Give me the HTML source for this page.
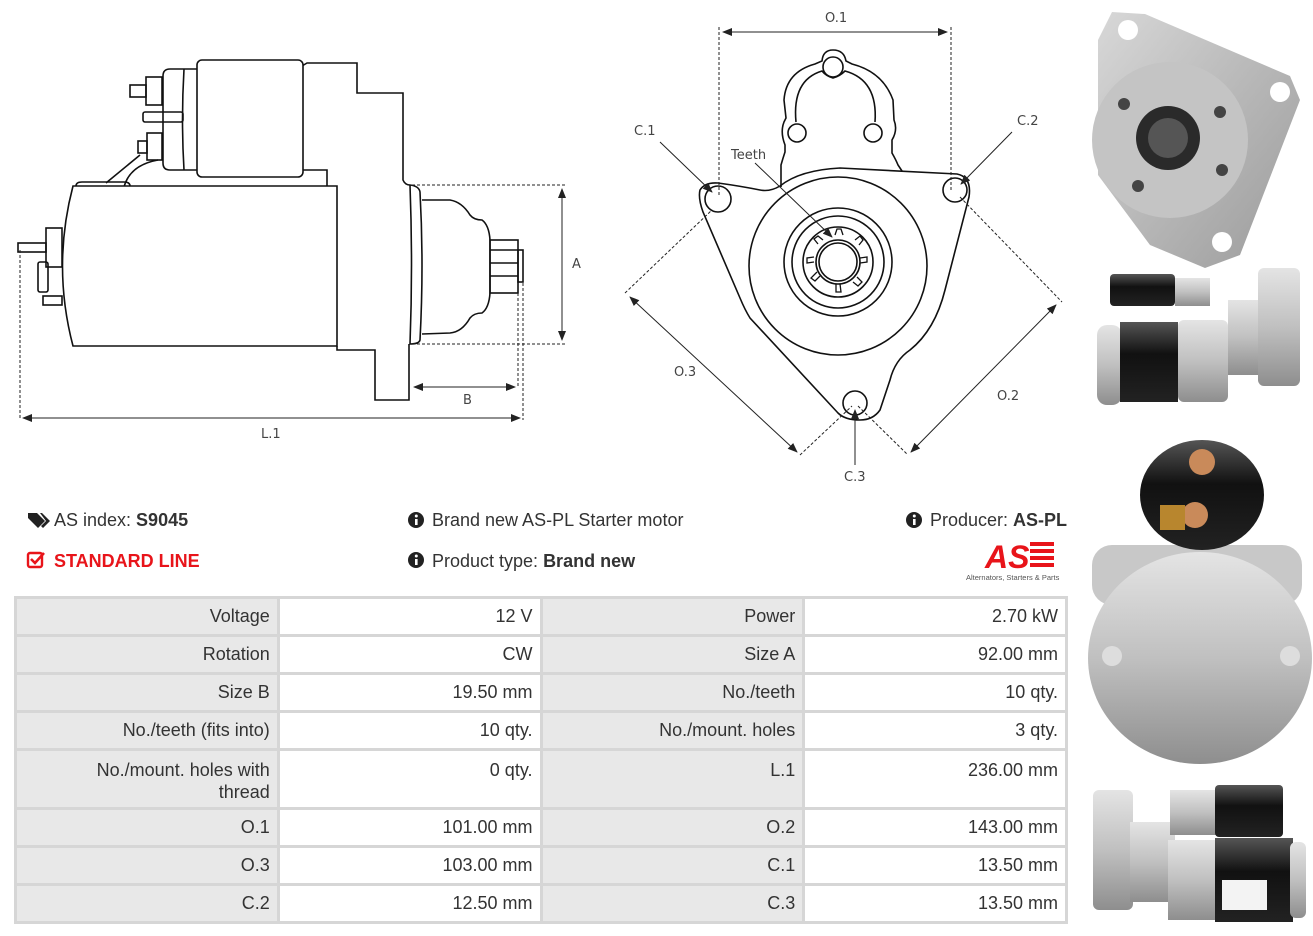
<!DOCTYPE html>
<html><head><meta charset="utf-8">
<style>
html,body{margin:0;padding:0;background:#fff;}
body{width:1313px;height:936px;position:relative;overflow:hidden;font-family:"Liberation Sans",sans-serif;color:#333;}
.t{position:absolute;font-size:18px;white-space:nowrap;}
table{position:absolute;left:14px;top:596px;border-collapse:collapse;width:1054px;table-layout:fixed;}
td{border:3px solid #d6d6d6;font-size:18px;color:#333;text-align:right;padding:0 7px;height:32px;vertical-align:middle;}
tr{height:38px;}
td.l{background:#e8e8e8;}
td.v{background:#fff;}
tr.tall{height:59px;}
tr.tall td{vertical-align:top;padding-top:8px;line-height:22px;}
</style></head><body>

<svg width="1313" height="936" style="position:absolute;left:0;top:0" xmlns="http://www.w3.org/2000/svg">
<defs>
<marker id="ar" markerWidth="10" markerHeight="8" refX="9" refY="4" orient="auto-start-reverse" markerUnits="userSpaceOnUse"><path d="M0,0 L10,4 L0,8 z" fill="#222"/></marker>
<linearGradient id="sil" x1="0" y1="0" x2="1" y2="1"><stop offset="0" stop-color="#d8d8d8"/><stop offset="0.5" stop-color="#b8b8b8"/><stop offset="1" stop-color="#9a9a9a"/></linearGradient>
<linearGradient id="silv" x1="0" y1="0" x2="0" y2="1"><stop offset="0" stop-color="#e4e4e4"/><stop offset="0.5" stop-color="#c0c0c0"/><stop offset="1" stop-color="#8e8e8e"/></linearGradient>
<linearGradient id="blk" x1="0" y1="0" x2="0" y2="1"><stop offset="0" stop-color="#555"/><stop offset="0.4" stop-color="#111"/><stop offset="1" stop-color="#222"/></linearGradient>
</defs>

<!-- SIDE VIEW -->
<g fill="none" stroke="#111" stroke-width="1.6">
 <!-- housing -->
 <path d="M302,66 L307,63 L357,63 L357,93 L403,93 L403,180 Q405,185 410,185"/>
 <path d="M300,170 L327,170 L327,186"/>
 <path d="M337,346 L337,350 L375,350 L375,400 L409,400 L409,344"/>
 <!-- solenoid -->
 <rect x="197" y="60" width="106" height="117" rx="5" fill="#fff"/>
 <path d="M197,69 L170,69 Q163,69 163,76 L163,163 Q163,170 170,170 L197,170"/>
 <path d="M184,69 Q181,120 184,170"/>
 <rect x="146" y="77" width="16" height="28"/>
 <rect x="130" y="85" width="16" height="12"/>
 <rect x="143" y="112" width="40" height="10" rx="2"/>
 <rect x="147" y="133" width="15" height="27"/>
 <rect x="138" y="141" width="9" height="12"/>
 <path d="M140,155 L106,183 M158,160 Q130,165 124,187"/>
 <!-- motor body -->
 <path d="M73,186 L337,186 L337,346 L73,346 Q52,266 73,186 Z" fill="#fff"/>
 <path d="M76,186 Q76,182 82,182 L124,182 Q130,182 130,186"/>
 <rect x="46" y="228" width="16" height="39"/>
 <rect x="38" y="262" width="10" height="30" rx="2"/>
 <rect x="18" y="243" width="28" height="9"/>
 <rect x="43" y="296" width="19" height="9"/>
 <!-- flange -->
 <path d="M410,185 Q419,186 420,192 Q424,265 420,340 Q419,344 410,344 Q413,265 410,185"/>
 <!-- nose -->
 <path d="M422,200 L450,200 Q462,202 470,215 Q474,220 482,220 Q489,225 490,240 L490,293 Q489,308 482,313 Q474,313 470,318 Q462,332 450,333 L422,334"/>
 <rect x="490" y="240" width="28" height="53"/>
 <line x1="490" y1="250" x2="518" y2="250"/><line x1="490" y1="263" x2="518" y2="263"/><line x1="490" y1="276" x2="518" y2="276"/>
 <rect x="518" y="250" width="5" height="32"/>
</g>
<!-- side dims -->
<g stroke="#222" stroke-width="1" fill="none">
 <path d="M412,185 L565,185 M412,344 L565,344 M20,250 L20,420 M523,283 L523,420 M518,293 L518,387" stroke-dasharray="3,2"/>
 <line x1="562" y1="189" x2="562" y2="340" marker-start="url(#ar)" marker-end="url(#ar)"/>
 <line x1="414" y1="387" x2="515" y2="387" marker-start="url(#ar)" marker-end="url(#ar)"/>
 <line x1="23" y1="418" x2="520" y2="418" marker-start="url(#ar)" marker-end="url(#ar)"/>
</g>
<g font-family="DejaVu Sans,sans-serif" font-size="13" fill="#444">
 <text x="572" y="268">A</text>
 <text x="463" y="404">B</text>
 <text x="261" y="438">L.1</text>
</g>

<!-- FRONT VIEW -->
<g fill="none" stroke="#111" stroke-width="1.6">
 <path d="M700,190 Q705,182 718,183 Q740,186 760,190 Q770,192 780,186 Q800,170 840,168 L957,174 Q972,177 969,197 L945,290 Q935,330 910,350 Q895,360 890,380 L880,410 Q873,420 860,420 Q845,420 838,413 L750,318 Q745,310 740,298 L703,212 Q698,198 700,190 Z"/>
 <path d="M781,187 L781,165 Q783,158 785,152 L785,145 Q780,132 784,122 L786,118 L784,100 Q786,72 815,64 L822,61 Q823,50 833,50 Q844,50 846,61 L852,64 Q883,72 893,100 L894,120 Q898,130 892,140 L892,153 Q896,160 898,165 L902,171"/>
 <path d="M796,122 Q792,80 822,71 Q826,76 833,78 Q840,76 845,71 Q878,80 875,122"/>
 <circle cx="833" cy="67" r="10"/>
 <circle cx="797" cy="133" r="9"/>
 <circle cx="873" cy="133" r="9"/>
 <circle cx="718" cy="199" r="13"/>
 <circle cx="955" cy="190" r="12"/>
 <circle cx="855" cy="403" r="12"/>
 <circle cx="838" cy="266" r="89"/>
 <circle cx="838" cy="262" r="54"/>
 <circle cx="838" cy="262" r="46"/>
 <circle cx="838" cy="262" r="35"/>
 <circle cx="838" cy="262" r="22"/>
 <circle cx="838" cy="262" r="19"/>
</g>
<g stroke="#111" stroke-width="1.3" fill="none">
 <path d="M835,235 L837,229 L841,229 L843,235 M855,240 L860,236 L863,240 L859,245 M860,258 L867,257 L867,262 L860,263 M857,277 L862,282 L858,286 L853,282 M840,284 L841,292 L836,292 L836,284 M820,276 L815,281 L811,278 L817,272 M814,262 L807,263 L807,258 L814,257 M818,244 L814,239 L818,236 L823,240"/>
</g>
<g stroke="#222" stroke-width="1" fill="none">
 <path d="M719,27 L719,197 M951,27 L951,192 M625,293 L712,210 M960,197 L1062,302 M800,455 L852,406 M858,406 L908,455" stroke-dasharray="3,2"/>
 <line x1="723" y1="32" x2="947" y2="32" marker-start="url(#ar)" marker-end="url(#ar)"/>
 <line x1="630" y1="297" x2="797" y2="452" marker-start="url(#ar)" marker-end="url(#ar)"/>
 <line x1="1056" y1="305" x2="911" y2="452" marker-start="url(#ar)" marker-end="url(#ar)"/>
 <line x1="660" y1="142" x2="712" y2="192" marker-end="url(#ar)"/>
 <line x1="1012" y1="132" x2="961" y2="184" marker-end="url(#ar)"/>
 <line x1="755" y1="163" x2="832" y2="237" marker-end="url(#ar)"/>
 <line x1="855" y1="465" x2="855" y2="410" marker-end="url(#ar)"/>
</g>
<g font-family="DejaVu Sans,sans-serif" font-size="13" fill="#444">
 <text x="825" y="22">O.1</text>
 <text x="634" y="135">C.1</text>
 <text x="1017" y="125">C.2</text>
 <text x="731" y="159">Teeth</text>
 <text x="674" y="376">O.3</text>
 <text x="997" y="400">O.2</text>
 <text x="844" y="481">C.3</text>
</g>

<!-- PHOTOS -->
<path d="M1098,40 L1112,12 L1145,14 L1290,76 L1300,100 L1240,255 L1205,268 L1150,245 L1098,175 Z" fill="url(#sil)"/>
<circle cx="1128" cy="30" r="10" fill="#fff"/>
<circle cx="1280" cy="92" r="10" fill="#fff"/>
<circle cx="1222" cy="242" r="10" fill="#fff"/>
<circle cx="1170" cy="140" r="78" fill="#c4c4c4"/>
<circle cx="1168" cy="138" r="32" fill="#2a2a2a"/>
<circle cx="1168" cy="138" r="20" fill="#555"/>
<circle cx="1124" cy="104" r="6" fill="#444"/><circle cx="1220" cy="112" r="6" fill="#444"/>
<circle cx="1138" cy="186" r="6" fill="#444"/><circle cx="1222" cy="170" r="6" fill="#444"/>
<rect x="1110" y="274" width="65" height="32" rx="4" fill="url(#blk)"/>
<rect x="1175" y="278" width="35" height="28" fill="url(#silv)"/>
<rect x="1097" y="325" width="25" height="80" rx="10" fill="url(#silv)"/>
<rect x="1120" y="322" width="58" height="80" fill="url(#blk)"/>
<rect x="1178" y="320" width="50" height="82" rx="6" fill="url(#silv)"/>
<rect x="1228" y="300" width="40" height="75" fill="url(#silv)"/>
<rect x="1258" y="268" width="42" height="118" rx="6" fill="url(#silv)"/>
<rect x="1092" y="545" width="210" height="60" rx="20" fill="#c8c8c8"/>
<ellipse cx="1202" cy="495" rx="62" ry="55" fill="url(#blk)"/>
<circle cx="1202" cy="462" r="13" fill="#c98a5a"/>
<circle cx="1195" cy="515" r="13" fill="#c98a5a"/>
<rect x="1160" y="505" width="25" height="25" fill="#b8862e"/>
<ellipse cx="1200" cy="658" rx="112" ry="106" fill="url(#silv)"/>
<circle cx="1112" cy="656" r="10" fill="#ddd"/>
<circle cx="1290" cy="656" r="10" fill="#ddd"/>
<rect x="1093" y="790" width="40" height="120" rx="6" fill="url(#silv)"/>
<rect x="1130" y="822" width="45" height="80" fill="url(#silv)"/>
<rect x="1170" y="790" width="50" height="45" fill="url(#silv)"/>
<rect x="1215" y="785" width="68" height="52" rx="4" fill="url(#blk)"/>
<rect x="1168" y="840" width="50" height="80" fill="url(#silv)"/>
<rect x="1215" y="838" width="78" height="84" fill="url(#blk)"/>
<rect x="1290" y="842" width="16" height="76" rx="6" fill="url(#silv)"/>
<rect x="1222" y="880" width="45" height="30" fill="#f3f3f3"/>

<!-- icons -->
<path d="M28,513 L37,513 L45,521 L38,528 L28,518 Z" fill="#222"/>
<path d="M40,513 L42,513 L50,521 L43,528 L41,526 L46,521 Z" fill="#222"/>
<rect x="28" y="553" width="14" height="14" rx="2" fill="none" stroke="#e8141a" stroke-width="2.4"/>
<path d="M31,559 L35,563 L44,553" fill="none" stroke="#e8141a" stroke-width="2.6"/>
<circle cx="416" cy="520" r="8" fill="#222"/><circle cx="416" cy="560" r="8" fill="#222"/><circle cx="914" cy="520" r="8" fill="#222"/>
<g fill="#fff"><rect x="415" y="519" width="2.6" height="6"/><circle cx="416.3" cy="516" r="1.5"/>
<rect x="415" y="559" width="2.6" height="6"/><circle cx="416.3" cy="556" r="1.5"/>
<rect x="913" y="519" width="2.6" height="6"/><circle cx="914.3" cy="516" r="1.5"/></g>
<text x="985" y="568" font-family="Liberation Sans,sans-serif" font-weight="bold" font-style="italic" font-size="32" fill="#e8141a">AS</text>
<g fill="#e8141a"><rect x="1030" y="542" width="24" height="4"/><rect x="1030" y="549" width="24" height="4"/><rect x="1030" y="556" width="24" height="4"/><rect x="1030" y="563" width="24" height="4"/></g>
<text x="966" y="580" font-family="Liberation Sans,sans-serif" font-size="7.5" fill="#555">Alternators, Starters &amp; Parts</text>
</svg>

<div class="t" style="left:54px;top:510px;">AS index: <b>S9045</b></div>
<div class="t" style="left:54px;top:551px;color:#e8141a;font-weight:bold;">STANDARD LINE</div>
<div class="t" style="left:432px;top:510px;">Brand new AS-PL Starter motor</div>
<div class="t" style="left:432px;top:551px;">Product type: <b>Brand new</b></div>
<div class="t" style="left:930px;top:510px;">Producer: <b>AS-PL</b></div>

<table>
<tr><td class="l">Voltage</td><td class="v">12 V</td><td class="l">Power</td><td class="v">2.70 kW</td></tr>
<tr><td class="l">Rotation</td><td class="v">CW</td><td class="l">Size A</td><td class="v">92.00 mm</td></tr>
<tr><td class="l">Size B</td><td class="v">19.50 mm</td><td class="l">No./teeth</td><td class="v">10 qty.</td></tr>
<tr><td class="l">No./teeth (fits into)</td><td class="v">10 qty.</td><td class="l">No./mount. holes</td><td class="v">3 qty.</td></tr>
<tr class="tall"><td class="l">No./mount. holes with<br>thread</td><td class="v">0 qty.</td><td class="l">L.1</td><td class="v">236.00 mm</td></tr>
<tr><td class="l">O.1</td><td class="v">101.00 mm</td><td class="l">O.2</td><td class="v">143.00 mm</td></tr>
<tr><td class="l">O.3</td><td class="v">103.00 mm</td><td class="l">C.1</td><td class="v">13.50 mm</td></tr>
<tr><td class="l">C.2</td><td class="v">12.50 mm</td><td class="l">C.3</td><td class="v">13.50 mm</td></tr>
</table>
</body></html>
